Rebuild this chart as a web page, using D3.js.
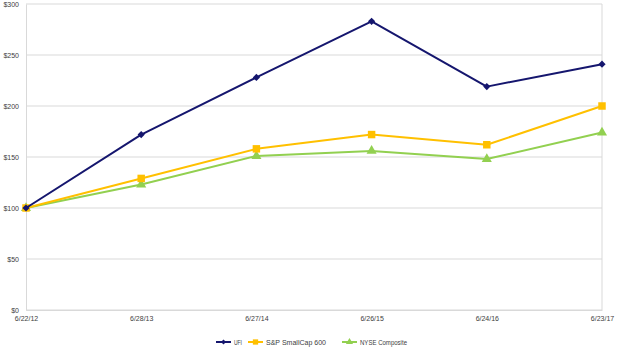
<!DOCTYPE html>
<html>
<head>
<meta charset="utf-8">
<script src="https://cdn.jsdelivr.net/npm/d3@7"></script>
<style>
  html, body { margin: 0; padding: 0; background: #fff; }
  svg { display: block; font-family: "Liberation Sans", "DejaVu Sans", sans-serif; }
</style>
</head>
<body>
<svg id="chart" width="619" height="350"></svg>
<script>
// Five-year cumulative total return, $100 invested on 6/22/12
const dates = ["6/22/12", "6/28/13", "6/27/14", "6/26/15", "6/24/16", "6/23/17"];
const ufi = [100, 172, 228, 283, 219, 241];
const smallCap = [100, 129, 158, 172, 162, 200];
const nyse = [100, 123, 151, 156, 148, 174];
const yTicks = [0, 50, 100, 150, 200, 250, 300];

// a square turned 45 degrees: wider than d3's built-in diamond
const wideDiamond = {
  draw(context, size) {
    const r = Math.sqrt(size / 2);
    context.moveTo(0, -r);
    context.lineTo(r, 0);
    context.lineTo(0, r);
    context.lineTo(-r, 0);
    context.closePath();
  }
};

const series = [
  { name: "UFI", values: ufi, color: "#15166e", symbol: wideDiamond, size: 26, lx: 216, tw: 8 },
  { name: "S&P SmallCap 600", values: smallCap, color: "#ffc000", symbol: d3.symbolSquare, size: 56, lx: 248, tw: 60 },
  { name: "NYSE Composite", values: nyse, color: "#92d050", symbol: d3.symbolTriangle, size: 44, lx: 342, tw: 47 }
];

const svg = d3.select("#chart");
const margin = { left: 26, right: 17, top: 4, bottom: 40 };
const W = 619, H = 350;

const x = d3.scalePoint().domain(dates).range([margin.left, W - margin.right]);
const y = d3.scaleLinear().domain([0, 300]).range([H - margin.bottom, margin.top]);

// horizontal gridlines
svg.append("g")
  .selectAll("line")
  .data(yTicks)
  .join("line")
  .attr("x1", margin.left).attr("x2", W - margin.right)
  .attr("y1", d => y(d)).attr("y2", d => y(d))
  .attr("stroke", "#d9d9d9").attr("stroke-width", 1);

// right border of the plot
svg.append("line")
  .attr("x1", W - margin.right).attr("x2", W - margin.right)
  .attr("y1", y(300)).attr("y2", y(0))
  .attr("stroke", "#d9d9d9");

// y axis
const yAxis = svg.append("g")
  .attr("transform", `translate(${margin.left},0)`)
  .call(d3.axisLeft(y).tickValues(yTicks).tickFormat(d => "$" + d).tickSize(0).tickPadding(7));
yAxis.select(".domain").attr("stroke", "#d9d9d9");
yAxis.selectAll("text").attr("font-size", 7).attr("fill", "#404040");

// x axis
const xAxis = svg.append("g")
  .attr("transform", `translate(0,${y(0)})`)
  .call(d3.axisBottom(x).tickSize(0).tickPadding(6));
xAxis.select(".domain").attr("stroke", "#d9d9d9");
xAxis.selectAll("text").attr("font-size", 7).attr("fill", "#404040");

const line = d3.line().x((d, i) => x(dates[i])).y(d => y(d));

// draw bottom-up so UFI sits on top
[...series].reverse().forEach(s => {
  const g = svg.append("g");
  g.append("path")
    .datum(s.values)
    .attr("d", line)
    .attr("fill", "none")
    .attr("stroke", s.color)
    .attr("stroke-width", 2)
    .attr("stroke-linejoin", "round");
  g.selectAll("path.mark")
    .data(s.values)
    .join("path")
    .attr("class", "mark")
    .attr("transform", (d, i) => `translate(${x(dates[i])},${y(d)})`)
    .attr("d", d3.symbol().type(s.symbol).size(s.size))
    .attr("fill", s.color);
});

// legend
const legend = svg.append("g").attr("transform", "translate(0,342)");
series.forEach(s => {
  const g = legend.append("g").attr("transform", `translate(${s.lx},0)`);
  g.append("line").attr("x1", 0).attr("x2", 15).attr("stroke", s.color).attr("stroke-width", 2);
  g.append("path").attr("transform", "translate(7.5,0)")
    .attr("d", d3.symbol().type(s.symbol).size(s.size * 0.5)).attr("fill", s.color);
  g.append("text").attr("x", 18).attr("y", 2.5)
    .attr("font-size", 7).attr("fill", "#404040")
    .attr("textLength", s.tw).attr("lengthAdjust", "spacingAndGlyphs")
    .text(s.name);
});
</script>
</body>
</html>
